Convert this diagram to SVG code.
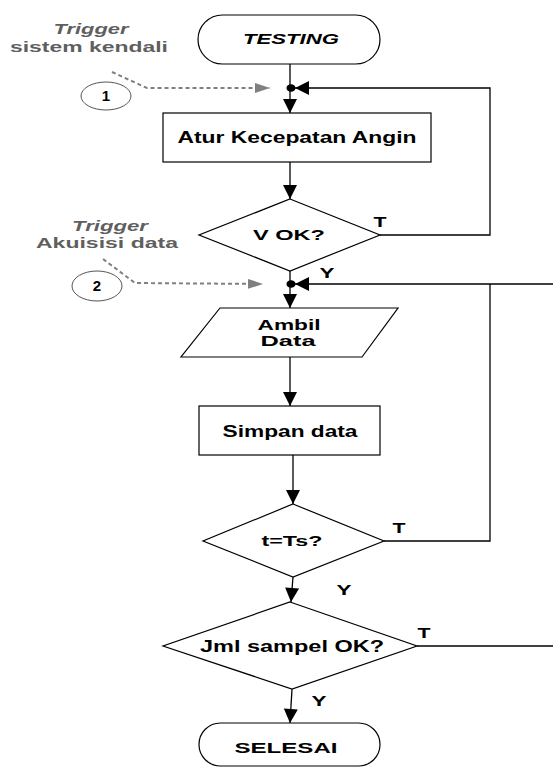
<svg xmlns="http://www.w3.org/2000/svg" width="553" height="767" viewBox="0 0 553 767">
  <style>
    .shape { fill: #ffffff; stroke: #000000; stroke-width: 1.2; }
    .bubble { fill: #ffffff; stroke: #555555; stroke-width: 1; }
    .line { fill: none; stroke: #000000; stroke-width: 1.3; }
    .dash { fill: none; stroke: #808080; stroke-width: 2; stroke-dasharray: 4 3; }
    .t { font-family: "Liberation Sans", Arial, sans-serif; font-weight: bold; fill: #000000; text-anchor: middle; }
    .note { font-family: "Liberation Sans", Arial, sans-serif; font-weight: bold; fill: #5f5f5f; text-anchor: middle; }
    .it { font-style: italic; }
  </style>
  <defs>
    <marker id="arrow" markerUnits="userSpaceOnUse" markerWidth="16" markerHeight="16" viewBox="0 0 16 16" refX="15" refY="8" orient="auto">
      <path d="M1,1 L15,8 L1,15 Z" fill="#000000"/>
    </marker>
    <marker id="arrowGray" markerUnits="userSpaceOnUse" markerWidth="16" markerHeight="12" viewBox="0 0 16 12" refX="15" refY="6" orient="auto">
      <path d="M0,1 L15,6 L0,11 Z" fill="#808080"/>
    </marker>
  </defs>

  <!-- connectors -->
  <g id="connectors">
    <line class="line" x1="290" y1="64" x2="290" y2="113" marker-end="url(#arrow)"/>
    <polyline class="line" points="380,235 490,235 490,88 295,88" marker-end="url(#arrow)"/>
    <line class="line" x1="290" y1="162" x2="290" y2="199" marker-end="url(#arrow)"/>
    <line class="line" x1="290" y1="271" x2="290" y2="308" marker-end="url(#arrow)"/>
    <line class="line" x1="553" y1="284" x2="295" y2="284" marker-end="url(#arrow)"/>
    <polyline class="line" points="384,541 490,541 490,284"/>
    <line class="line" x1="290" y1="357" x2="290" y2="406" marker-end="url(#arrow)"/>
    <line class="line" x1="293" y1="455" x2="293" y2="504" marker-end="url(#arrow)"/>
    <line class="line" x1="293" y1="577" x2="291" y2="602" marker-end="url(#arrow)"/>
    <line class="line" x1="417" y1="646" x2="553" y2="646"/>
    <line class="line" x1="292" y1="689" x2="290" y2="723" marker-end="url(#arrow)"/>
    <ellipse cx="291" cy="88" rx="4.5" ry="3.8" fill="#000000"/>
    <ellipse cx="291" cy="284" rx="4.5" ry="3.8" fill="#000000"/>
    <polyline class="dash" points="112,72 147,88 270,88" marker-end="url(#arrowGray)"/>
    <polyline class="dash" points="103,259 135,283 263,284" marker-end="url(#arrowGray)"/>
    <text class="t" x="380" y="227" font-size="14" textLength="13" lengthAdjust="spacingAndGlyphs">T</text>
    <text class="t" x="327" y="278" font-size="14" textLength="15" lengthAdjust="spacingAndGlyphs">Y</text>
    <text class="t" x="399" y="533" font-size="14" textLength="13" lengthAdjust="spacingAndGlyphs">T</text>
    <text class="t" x="344" y="595" font-size="14" textLength="15" lengthAdjust="spacingAndGlyphs">Y</text>
    <text class="t" x="424" y="638" font-size="14" textLength="13" lengthAdjust="spacingAndGlyphs">T</text>
    <text class="t" x="319" y="706" font-size="14" textLength="15" lengthAdjust="spacingAndGlyphs">Y</text>
  </g>

  <!-- trigger notes -->
  <g id="trigger1">
    <text class="note it" x="91" y="34" font-size="14" textLength="75" lengthAdjust="spacingAndGlyphs">Trigger</text>
    <text class="note" x="89" y="52" font-size="15" textLength="158" lengthAdjust="spacingAndGlyphs">sistem kendali</text>
    <ellipse class="bubble" cx="106" cy="96" rx="25" ry="14"/>
    <text class="t" x="106" y="101" font-size="15" fill="#333333">1</text>
  </g>
  <g id="trigger2">
    <text class="note it" x="110" y="231" font-size="14" textLength="76" lengthAdjust="spacingAndGlyphs">Trigger</text>
    <text class="note" x="107" y="248" font-size="15" textLength="142" lengthAdjust="spacingAndGlyphs">Akuisisi data</text>
    <ellipse class="bubble" cx="97" cy="286" rx="25" ry="15"/>
    <text class="t" x="97" y="291" font-size="15" fill="#333333">2</text>
  </g>

  <!-- flow nodes -->
  <g id="testing">
    <rect class="shape" x="198" y="15" width="182" height="49" rx="24.5" ry="24.5"/>
    <text class="t it" x="291" y="44" font-size="15" textLength="96" lengthAdjust="spacingAndGlyphs">TESTING</text>
  </g>
  <g id="atur-kecepatan">
    <rect class="shape" x="163" y="113" width="268" height="49"/>
    <text class="t" x="297" y="143" font-size="16" textLength="239" lengthAdjust="spacingAndGlyphs">Atur Kecepatan Angin</text>
  </g>
  <g id="v-ok">
    <polygon class="shape" points="290,199 380,235 290,271 199,235"/>
    <text class="t" x="289" y="240" font-size="15" textLength="72" lengthAdjust="spacingAndGlyphs">V OK?</text>
  </g>
  <g id="ambil-data">
    <polygon class="shape" points="220,308 398,308 362,357 181,357"/>
    <text class="t" x="289" y="330" font-size="15" textLength="63" lengthAdjust="spacingAndGlyphs">Ambil</text>
    <text class="t" x="288" y="346" font-size="15" textLength="55" lengthAdjust="spacingAndGlyphs">Data</text>
  </g>
  <g id="simpan-data">
    <rect class="shape" x="199" y="406" width="181" height="49"/>
    <text class="t" x="290" y="437" font-size="16" textLength="135" lengthAdjust="spacingAndGlyphs">Simpan data</text>
  </g>
  <g id="t-ts">
    <polygon class="shape" points="293,504 384,541 293,577 203,541"/>
    <text class="t" x="292" y="546" font-size="15" textLength="61" lengthAdjust="spacingAndGlyphs">t=Ts?</text>
  </g>
  <g id="jml-sampel">
    <polygon class="shape" points="290,602 417,646 292,689 163,646"/>
    <text class="t" x="292" y="652" font-size="16" textLength="184" lengthAdjust="spacingAndGlyphs">Jml sampel OK?</text>
  </g>
  <g id="selesai">
    <rect class="shape" x="199" y="723" width="181" height="43" rx="21.5" ry="21.5"/>
    <text class="t" x="286" y="753" font-size="15" textLength="103" lengthAdjust="spacingAndGlyphs">SELESAI</text>
  </g>
</svg>
